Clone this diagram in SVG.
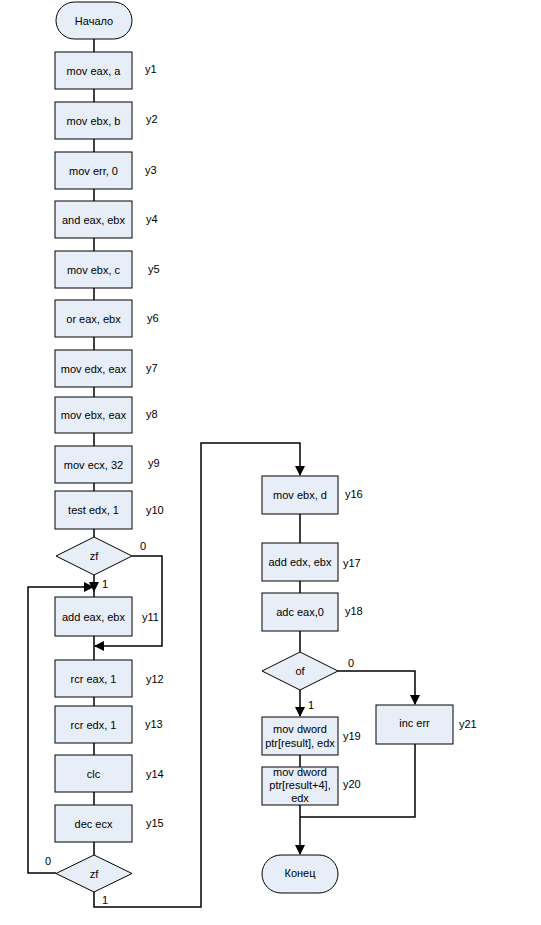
<svg xmlns="http://www.w3.org/2000/svg" width="541" height="925" viewBox="0 0 541 925">
<style>
.n{fill:#e8eef7;stroke:#000;stroke-width:1}
.t{font-family:"Liberation Sans",Arial,sans-serif;font-size:11px;fill:#000;text-anchor:middle;dominant-baseline:central}
.l{font-family:"Liberation Sans",Arial,sans-serif;font-size:11px;fill:#000;dominant-baseline:central}
.c{fill:none;stroke:#000;stroke-width:1.5}
</style>
<defs>
<marker id="a" markerWidth="10" markerHeight="10" refX="9" refY="5" orient="auto" markerUnits="userSpaceOnUse">
<path d="M0,0 L10,5 L0,10 Z" fill="#000"/>
</marker>
</defs>
<rect width="541" height="925" fill="#fff"/>
<g id="connectors">
<path class="c" d="M94,39 V52 M94,89 V102 M94,139 V152 M94,189 V201 M94,238 V251 M94,288 V300 M94,337 V350 M94,387 V397 M94,433 V446 M94,483 V491 M94,529 V537"/>
<path class="c" d="M94,575 V591" marker-end="url(#a)"/>
<path class="c" d="M94,591 V597 M94,636 V660 M94,697 V706 M94,743 V755 M94,792 V805 M94,842 V855"/>
<path class="c" d="M132,556 H162 V646 H95" marker-end="url(#a)"/>
<path class="c" d="M56,873 H28 V587 H93" marker-end="url(#a)"/>
<path class="c" d="M94,892 V907 H201 V443 H300 V475" marker-end="url(#a)"/>
<path class="c" d="M300,514 V543 M300,581 V593 M300,631 V652 M300,755 V767"/>
<path class="c" d="M338,671 H415 V704" marker-end="url(#a)"/>
<path class="c" d="M300,690 V716" marker-end="url(#a)"/>
<path class="c" d="M300,805 V854" marker-end="url(#a)"/>
<path class="c" d="M415,744 V817 H300"/>
<text class="l" x="140" y="546">0</text>
<text class="l" x="102" y="584">1</text>
<text class="l" x="45" y="861">0</text>
<text class="l" x="102" y="900">1</text>
<text class="l" x="348" y="663">0</text>
<text class="l" x="308" y="705">1</text>
</g>
<g id="start"><rect class="n" x="56" y="2" width="76" height="37" rx="18.5"/><text class="t" x="94" y="20.5">Начало</text></g>
<g id="y1"><rect class="n" x="55" y="52" width="77" height="37"/><text class="t" x="93.5" y="70.5">mov eax, a</text><text class="l" x="145" y="69">y1</text></g>
<g id="y2"><rect class="n" x="55" y="102" width="77" height="37"/><text class="t" x="93.5" y="120.5">mov ebx, b</text><text class="l" x="146" y="119">y2</text></g>
<g id="y3"><rect class="n" x="55" y="152" width="77" height="37"/><text class="t" x="93.5" y="170.5">mov err, 0</text><text class="l" x="145" y="170">y3</text></g>
<g id="y4"><rect class="n" x="55" y="201" width="77" height="37"/><text class="t" x="93.5" y="219.5">and eax, ebx</text><text class="l" x="146" y="219">y4</text></g>
<g id="y5"><rect class="n" x="55" y="251" width="77" height="37"/><text class="t" x="93.5" y="269.5">mov ebx, c</text><text class="l" x="148" y="269">y5</text></g>
<g id="y6"><rect class="n" x="55" y="300" width="77" height="37"/><text class="t" x="93.5" y="318.5">or eax, ebx</text><text class="l" x="147" y="318">y6</text></g>
<g id="y7"><rect class="n" x="55" y="350" width="77" height="37"/><text class="t" x="93.5" y="368.5">mov edx, eax</text><text class="l" x="146" y="368">y7</text></g>
<g id="y8"><rect class="n" x="55" y="397" width="77" height="36"/><text class="t" x="93.5" y="415">mov ebx, eax</text><text class="l" x="146" y="414">y8</text></g>
<g id="y9"><rect class="n" x="55" y="446" width="77" height="37"/><text class="t" x="93.5" y="464.5">mov ecx, 32</text><text class="l" x="148" y="463">y9</text></g>
<g id="y10"><rect class="n" x="55" y="491" width="77" height="38"/><text class="t" x="93.5" y="510">test edx, 1</text><text class="l" x="146" y="510">y10</text></g>
<g id="zf1"><polygon class="n" points="94,537 132,556 94,575 56,556"/><text class="t" x="94" y="556">zf</text></g>
<g id="y11"><rect class="n" x="55" y="597" width="77" height="39"/><text class="t" x="93.5" y="616.5">add eax, ebx</text><text class="l" x="142" y="617">y11</text></g>
<g id="y12"><rect class="n" x="55" y="660" width="77" height="37"/><text class="t" x="93.5" y="678.5">rcr eax, 1</text><text class="l" x="146" y="679">y12</text></g>
<g id="y13"><rect class="n" x="55" y="706" width="77" height="37"/><text class="t" x="93.5" y="724.5">rcr edx, 1</text><text class="l" x="145" y="724">y13</text></g>
<g id="y14"><rect class="n" x="55" y="755" width="77" height="37"/><text class="t" x="93.5" y="773.5">clc</text><text class="l" x="146" y="774">y14</text></g>
<g id="y15"><rect class="n" x="55" y="805" width="77" height="37"/><text class="t" x="93.5" y="823.5">dec ecx</text><text class="l" x="146" y="823">y15</text></g>
<g id="zf2"><polygon class="n" points="94,855 132,873.5 94,892 56,873.5"/><text class="t" x="94" y="873.5">zf</text></g>
<g id="y16"><rect class="n" x="262" y="476" width="76" height="38"/><text class="t" x="300" y="494.5">mov ebx, d</text><text class="l" x="345" y="494">y16</text></g>
<g id="y17"><rect class="n" x="262" y="543" width="76" height="38"/><text class="t" x="300" y="561.5">add edx, ebx</text><text class="l" x="343" y="563">y17</text></g>
<g id="y18"><rect class="n" x="262" y="593" width="76" height="38"/><text class="t" x="300" y="611.5">adc eax,0</text><text class="l" x="345" y="611">y18</text></g>
<g id="of"><polygon class="n" points="300,652 338,671 300,690 262,671"/><text class="t" x="300" y="671">of</text></g>
<g id="y19"><rect class="n" x="262" y="717" width="76" height="38"/><text class="t" x="300" y="729">mov dword</text><text class="t" x="300" y="743">ptr[result], edx</text><text class="l" x="343" y="736">y19</text></g>
<g id="y20"><rect class="n" x="262" y="767" width="76" height="38"/><text class="t" x="300" y="772">mov dword</text><text class="t" x="300" y="785">ptr[result+4],</text><text class="t" x="300" y="798">edx</text><text class="l" x="343" y="784">y20</text></g>
<g id="y21"><rect class="n" x="376" y="705" width="77" height="39"/><text class="t" x="414.5" y="723">inc err</text><text class="l" x="459" y="724">y21</text></g>
<g id="end"><rect class="n" x="262" y="855" width="76" height="38" rx="19"/><text class="t" x="300" y="873">Конец</text></g>
</svg>
